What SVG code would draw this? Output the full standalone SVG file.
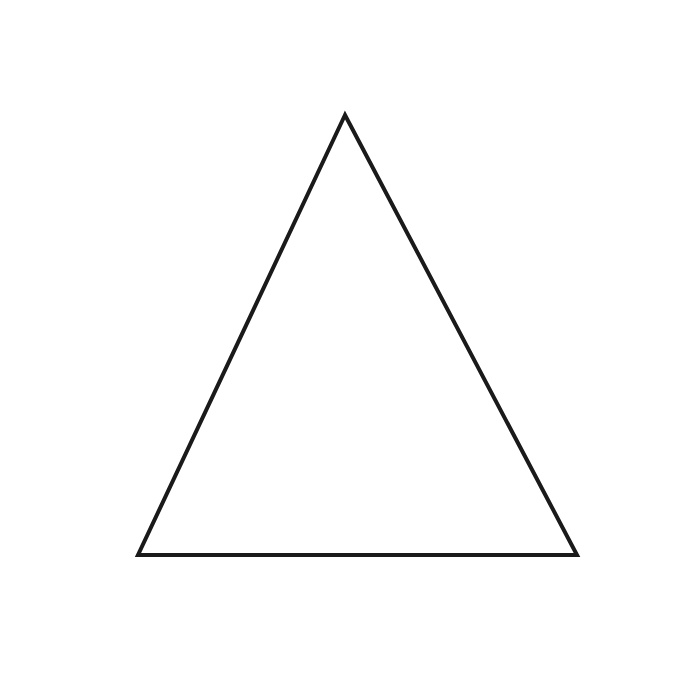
<svg xmlns="http://www.w3.org/2000/svg" width="700" height="700" viewBox="0 0 700 700">
<style>.tri{fill:none;stroke:#1a1a1a;stroke-width:4;stroke-linejoin:miter}</style>
<rect width="700" height="700" fill="#fff"/>
<polygon class="tri" points="345,115 138,555 577,555"/>
</svg>
